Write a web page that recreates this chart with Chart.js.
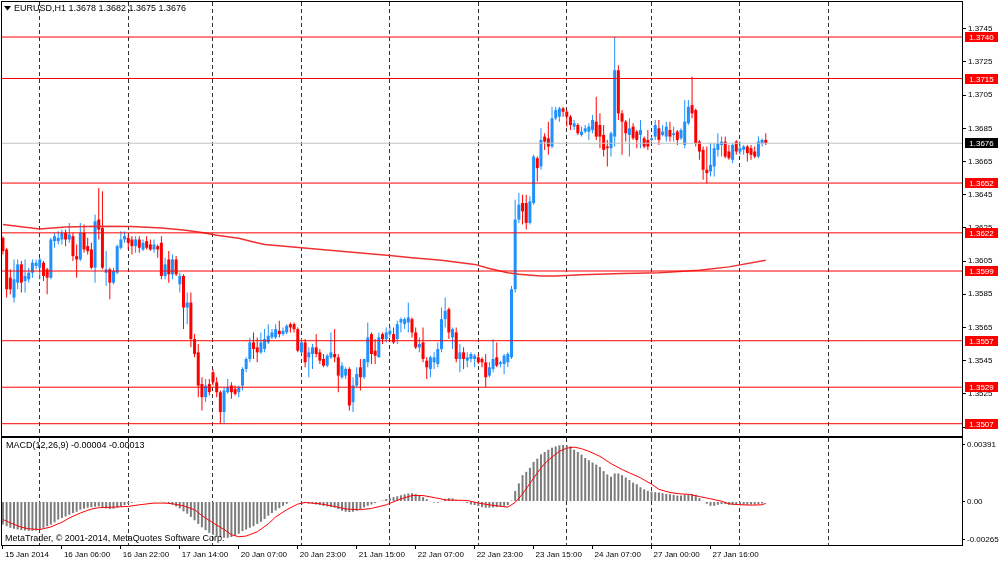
<!DOCTYPE html>
<html>
<head>
<meta charset="utf-8">
<script src="https://cdn.jsdelivr.net/npm/chart.js@4.4.1/dist/chart.umd.min.js"></script>
<style>
html, body { margin: 0; padding: 0; background: #fff; }
#wrap { position: relative; width: 1000px; height: 562px; overflow: hidden; background: #fff; }
#main { position: absolute; left: 0; top: 0; }
#macd { position: absolute; left: 0; top: 437px; }
</style>
</head>
<body>
<div id="wrap">
  <canvas id="main" width="1000" height="437"></canvas>
  <canvas id="macd" width="1000" height="125"></canvas>
</div>
<script>
// EURUSD H1, one value per hourly bar (bar 0 = 15 Jan 14:00)
const symbol = 'EURUSD';
const period = 'H1';

const openP = [
1.3619,1.3612,1.3595,1.3583,1.3592,1.3603,1.3593,1.3594,1.3598,1.3602,
1.3601,1.3604,1.3600,1.3595,1.3617,1.3617,1.3618,1.3622,1.3618,1.3620,
1.3608,1.3606,1.3622,1.3614,1.3612,1.3601,1.3630,1.3625,1.3598,1.3600,
1.3592,1.3598,1.3613,1.3618,1.3619,1.3618,1.3614,1.3618,1.3612,1.3617,
1.3615,1.3612,1.3614,1.3616,1.3596,1.3606,1.3597,1.3606,1.3591,1.3596,
1.3577,1.3580,1.3558,1.3550,1.3531,1.3523,1.3531,1.3538,1.3532,1.3526,
1.3514,1.3526,1.3530,1.3528,1.3526,1.3530,1.3540,1.3546,1.3556,1.3553,
1.3550,1.3552,1.3556,1.3559,1.3559,1.3563,1.3561,1.3562,1.3567,1.3567,
1.3564,1.3550,1.3556,1.3547,1.3549,1.3553,1.3550,1.3546,1.3542,1.3547,
1.3549,1.3547,1.3535,1.3536,1.3540,1.3520,1.3530,1.3541,1.3535,1.3544,
1.3561,1.3551,1.3547,1.3561,1.3558,1.3561,1.3561,1.3558,1.3568,1.3567,
1.3568,1.3570,1.3562,1.3553,1.3556,1.3545,1.3540,1.3544,1.3543,1.3552,
1.3570,1.3576,1.3559,1.3562,1.3546,1.3550,1.3545,1.3546,1.3546,1.3547,
1.3546,1.3544,1.3536,1.3540,1.3547,1.3543,1.3543,1.3544,1.3547,1.3588,
1.3630,1.3640,1.3640,1.3628,1.3640,1.3667,1.3662,1.3680,1.3679,1.3674,
1.3691,1.3692,1.3697,1.3695,1.3692,1.3686,1.3687,1.3681,1.3683,1.3683,
1.3684,1.3689,1.3687,1.3681,1.3674,1.3673,1.3680,1.3720,1.3694,1.3689,
1.3681,1.3686,1.3683,1.3681,1.3679,1.3678,1.3678,1.3680,1.3685,1.3681,
1.3680,1.3684,1.3681,1.3683,1.3679,1.3675,1.3688,1.3699,1.3696,1.3677,
1.3672,1.3660,1.3659,1.3662,1.3672,1.3675,1.3677,1.3671,1.3666,1.3677,
1.3671,1.3672,1.3674,1.3673,1.3671,1.3668,1.3676,1.3678];

const highP = [
1.3620,1.3613,1.3600,1.3606,1.3606,1.3605,1.3606,1.3601,1.3606,1.3606,
1.3607,1.3605,1.3601,1.3619,1.3622,1.3623,1.3624,1.3624,1.3628,1.3622,
1.3615,1.3628,1.3627,1.3619,1.3616,1.3633,1.3649,1.3647,1.3611,1.3601,
1.3601,1.3615,1.3623,1.3623,1.3621,1.3620,1.3620,1.3620,1.3618,1.3620,
1.3618,1.3618,1.3615,1.3620,1.3607,1.3611,1.3609,1.3608,1.3598,1.3597,
1.3586,1.3586,1.3561,1.3555,1.3535,1.3534,1.3534,1.3540,1.3535,1.3527,
1.3529,1.3534,1.3532,1.3530,1.3530,1.3541,1.3547,1.3559,1.3562,1.3559,
1.3562,1.3564,1.3567,1.3564,1.3567,1.3569,1.3565,1.3567,1.3568,1.3568,
1.3565,1.3558,1.3558,1.3553,1.3555,1.3561,1.3552,1.3549,1.3549,1.3562,
1.3564,1.3549,1.3544,1.3541,1.3541,1.3535,1.3541,1.3546,1.3546,1.3568,
1.3562,1.3558,1.3562,1.3562,1.3565,1.3566,1.3565,1.3569,1.3571,1.3571,
1.3580,1.3571,1.3565,1.3559,1.3565,1.3547,1.3548,1.3550,1.3556,1.3577,
1.3583,1.3577,1.3565,1.3565,1.3555,1.3553,1.3550,1.3550,1.3549,1.3549,
1.3547,1.3549,1.3544,1.3558,1.3556,1.3545,1.3549,1.3550,1.3590,1.3642,
1.3646,1.3645,1.3645,1.3644,1.3669,1.3668,1.3685,1.3682,1.3689,1.3698,
1.3698,1.3698,1.3698,1.3696,1.3693,1.3690,1.3688,1.3686,1.3687,1.3688,
1.3693,1.3704,1.3694,1.3687,1.3678,1.3683,1.3740,1.3723,1.3696,1.3690,
1.3691,1.3688,1.3684,1.3690,1.3680,1.3684,1.3680,1.3690,1.3690,1.3687,
1.3689,1.3689,1.3686,1.3684,1.3685,1.3702,1.3702,1.3716,1.3697,1.3678,
1.3674,1.3674,1.3676,1.3676,1.3682,1.3680,1.3680,1.3675,1.3676,1.3678,
1.3677,1.3675,1.3675,1.3675,1.3674,1.3680,1.3679,1.3682];

const lowP = [
1.3609,1.3583,1.3585,1.3580,1.3588,1.3586,1.3586,1.3592,1.3595,1.3600,
1.3594,1.3593,1.3585,1.3594,1.3613,1.3615,1.3615,1.3614,1.3616,1.3605,
1.3595,1.3605,1.3610,1.3609,1.3600,1.3592,1.3618,1.3600,1.3590,1.3582,
1.3591,1.3597,1.3612,1.3616,1.3612,1.3609,1.3610,1.3610,1.3611,1.3612,
1.3611,1.3610,1.3607,1.3594,1.3594,1.3592,1.3594,1.3596,1.3586,1.3564,
1.3567,1.3553,1.3547,1.3523,1.3515,1.3520,1.3524,1.3530,1.3523,1.3507,
1.3507,1.3525,1.3522,1.3524,1.3523,1.3527,1.3538,1.3544,1.3546,1.3544,
1.3549,1.3550,1.3555,1.3558,1.3558,1.3559,1.3560,1.3561,1.3562,1.3562,
1.3550,1.3549,1.3541,1.3535,1.3540,1.3547,1.3543,1.3541,1.3541,1.3546,
1.3544,1.3526,1.3534,1.3534,1.3515,1.3514,1.3529,1.3527,1.3534,1.3541,
1.3543,1.3543,1.3547,1.3555,1.3556,1.3559,1.3555,1.3555,1.3562,1.3564,
1.3562,1.3559,1.3552,1.3550,1.3544,1.3534,1.3535,1.3540,1.3541,1.3550,
1.3565,1.3558,1.3552,1.3544,1.3538,1.3540,1.3541,1.3544,1.3541,1.3543,
1.3541,1.3529,1.3535,1.3538,1.3541,1.3541,1.3537,1.3541,1.3546,1.3586,
1.3628,1.3627,1.3624,1.3627,1.3639,1.3653,1.3660,1.3672,1.3669,1.3673,
1.3690,1.3689,1.3692,1.3686,1.3684,1.3684,1.3681,1.3680,1.3682,1.3678,
1.3682,1.3678,1.3673,1.3668,1.3662,1.3668,1.3674,1.3690,1.3669,1.3677,
1.3668,1.3678,1.3673,1.3673,1.3673,1.3672,1.3677,1.3678,1.3675,1.3680,
1.3677,1.3677,1.3677,1.3675,1.3678,1.3673,1.3687,1.3691,1.3674,1.3666,
1.3654,1.3652,1.3656,1.3656,1.3668,1.3668,1.3667,1.3666,1.3664,1.3669,
1.3669,1.3669,1.3665,1.3666,1.3667,1.3667,1.3674,1.3675];

const closeP = [
1.3611,1.3588,1.3588,1.3594,1.3603,1.3592,1.3596,1.3598,1.3604,1.3604,
1.3606,1.3596,1.3595,1.3618,1.3620,1.3619,1.3622,1.3618,1.3621,1.3608,
1.3606,1.3622,1.3612,1.3611,1.3601,1.3629,1.3624,1.3601,1.3600,1.3592,
1.3599,1.3614,1.3618,1.3620,1.3616,1.3614,1.3618,1.3613,1.3616,1.3613,
1.3612,1.3615,1.3612,1.3596,1.3603,1.3597,1.3606,1.3597,1.3596,1.3577,
1.3580,1.3558,1.3549,1.3530,1.3523,1.3530,1.3526,1.3532,1.3526,1.3514,
1.3527,1.3529,1.3526,1.3525,1.3529,1.3540,1.3546,1.3556,1.3552,1.3550,
1.3556,1.3558,1.3560,1.3562,1.3564,1.3561,1.3563,1.3566,1.3565,1.3564,
1.3551,1.3556,1.3544,1.3550,1.3553,1.3549,1.3545,1.3542,1.3548,1.3550,
1.3547,1.3536,1.3542,1.3540,1.3518,1.3530,1.3537,1.3535,1.3546,1.3559,
1.3549,1.3548,1.3559,1.3558,1.3562,1.3563,1.3556,1.3567,1.3570,1.3570,
1.3571,1.3562,1.3553,1.3555,1.3546,1.3541,1.3547,1.3547,1.3552,1.3570,
1.3575,1.3562,1.3564,1.3546,1.3550,1.3546,1.3547,1.3549,1.3548,1.3544,
1.3544,1.3535,1.3541,1.3546,1.3542,1.3544,1.3548,1.3549,1.3588,1.3630,
1.3639,1.3635,1.3628,1.3641,1.3668,1.3661,1.3678,1.3677,1.3674,1.3691,
1.3696,1.3697,1.3695,1.3692,1.3687,1.3688,1.3682,1.3683,1.3685,1.3686,
1.3690,1.3680,1.3680,1.3672,1.3673,1.3682,1.3720,1.3694,1.3689,1.3682,
1.3685,1.3679,1.3678,1.3684,1.3674,1.3674,1.3679,1.3687,1.3678,1.3683,
1.3686,1.3680,1.3682,1.3678,1.3684,1.3689,1.3698,1.3694,1.3676,1.3671,
1.3660,1.3658,1.3663,1.3673,1.3676,1.3677,1.3668,1.3667,1.3675,1.3671,
1.3673,1.3674,1.3670,1.3669,1.3668,1.3677,1.3678,1.3676];

// moving average line read at a few bars
const maBars = [0,10,17,26,35,43,49,54,58,64,68,71,81,94,105,111,119,128,132,137,140,146,150,157,168,178,189,197,207];
const maVals = [1.36270,1.36243,1.36255,1.36260,1.36258,1.36250,1.36237,1.36222,1.36205,1.36187,1.36165,1.36150,1.36130,1.36105,1.36083,1.36070,1.36055,1.36030,1.36005,1.35980,1.35970,1.35960,1.35960,1.35968,1.35975,1.35980,1.35995,1.36015,1.36055];

// horizontal lines and the bid line
const levels = [1.3740, 1.3715, 1.3652, 1.3622, 1.3599, 1.3557, 1.3529, 1.3507];
const bidPrice = 1.3676;
const priceTicks = [1.3745,1.3725,1.3705,1.3685,1.3665,1.3645,1.3625,1.3605,1.3585,1.3565,1.3545,1.3525,1.3505];

// MACD(12,26,9) main value per bar
const macdHist = [
-0.00160,-0.00171,-0.00182,-0.00189,-0.00194,-0.00198,-0.00201,-0.00203,-0.00203,-0.00201,-0.00194,
-0.00182,-0.00171,-0.00160,-0.00144,-0.00125,-0.00114,-0.00103,-0.00091,-0.00080,-0.00071,
-0.00057,-0.00050,-0.00043,-0.00039,-0.00036,-0.00034,-0.00039,-0.00048,-0.00052,-0.00050,-0.00043,-0.00034,-0.00025,
-0.00016,-0.00009,-0.00005,-0.00002,-0.00002,0.00000,0.00002,0.00002,0.00000,-0.00002,-0.00007,-0.00011,
-0.00023,-0.00034,-0.00048,-0.00068,-0.00084,-0.00107,-0.00130,-0.00155,-0.00178,-0.00198,-0.00217,-0.00230,
-0.00239,-0.00246,-0.00251,-0.00251,-0.00246,-0.00235,-0.00223,
-0.00205,-0.00194,-0.00182,-0.00171,-0.00155,-0.00141,-0.00121,-0.00098,-0.00080,-0.00062,-0.00046,-0.00030,-0.00016,-0.00005,0.00005,0.00005,
-0.00002,-0.00009,-0.00014,-0.00016,-0.00021,-0.00025,-0.00030,-0.00034,-0.00039,-0.00043,-0.00052,-0.00064,-0.00071,-0.00073,-0.00071,
-0.00064,-0.00052,-0.00041,-0.00030,-0.00021,-0.00011,-0.00002,0.00007,0.00016,0.00023,
0.00030,0.00036,0.00043,0.00050,0.00055,0.00057,0.00052,0.00043,0.00030,0.00016,0.00002,
-0.00007,-0.00009,0.00002,0.00018,0.00023,0.00021,0.00011,0.00002,-0.00005,-0.00011,-0.00021,-0.00025,
-0.00032,-0.00039,-0.00043,-0.00043,-0.00041,-0.00039,-0.00034,-0.00030,-0.00025,
0.00007,
0.00073,0.00125,0.00182,0.00205,0.00233,0.00274,0.00296,0.00326,0.00342,0.00358,0.00372,0.00381,0.00388,0.00391,0.00389,
0.00381,0.00358,0.00342,0.00324,0.00301,0.00285,0.00269,0.00255,0.00239,0.00210,0.00187,0.00171,
0.00194,0.00194,0.00182,0.00166,0.00148,0.00130,0.00119,0.00098,0.00084,0.00073,0.00068,0.00064,
0.00062,0.00057,0.00052,0.00050,0.00046,0.00041,0.00041,0.00046,0.00050,0.00052,0.00046,
0.00023,0.00005,-0.00016,-0.00030,-0.00030,-0.00023,-0.00018,-0.00018,-0.00023,-0.00023,-0.00023,-0.00023,-0.00023,-0.00023,-0.00021,-0.00021,-0.00018,-0.00014,-0.00004];

// signal line read at a few bars
const sigBars = [0,2,5,7,10,13,16,18,21,24,26,30,34,37,41,44,46,49,52,54,57,60,62,64,66,69,72,74,77,80,82,86,90,93,97,100,104,108,111,114,117,120,123,126,129,133,137,139,141,143,145,147,149,151,153,155,157,159,162,165,168,170,173,176,178,181,184,186,189,192,195,197,200,203,206,207];
const sigVals = [-0.00125,-0.00148,-0.00178,-0.00189,-0.00194,-0.00176,-0.00144,-0.00114,-0.00080,-0.00052,-0.00043,-0.00039,-0.00034,-0.00023,-0.00011,-0.00011,-0.00016,-0.00030,-0.00057,-0.00098,-0.00148,-0.00194,-0.00230,-0.00244,-0.00239,-0.00210,-0.00155,-0.00107,-0.00057,-0.00018,-0.00007,-0.00016,-0.00034,-0.00052,-0.00057,-0.00048,-0.00023,0.00018,0.00041,0.00041,0.00027,0.00011,0.00009,0.00007,-0.00011,-0.00027,-0.00039,-0.00007,0.00052,0.00125,0.00198,0.00262,0.00308,0.00347,0.00369,0.00376,0.00365,0.00347,0.00312,0.00262,0.00221,0.00198,0.00164,0.00119,0.00084,0.00062,0.00052,0.00050,0.00034,0.00018,0.00002,-0.00016,-0.00023,-0.00025,-0.00023,-0.00013];
const macdTicks = [0.00391, 0, -0.00265];
const macdTickLabels = ['0.00391', '0.00', '-0.00265'];

// time axis
const timeLabelBars = [0,16,32,48,64,80,96,112,128,144,160,176,192];
const timeLabels = ['15 Jan 2014','16 Jan 06:00','16 Jan 22:00','17 Jan 14:00','20 Jan 07:00','20 Jan 23:00','21 Jan 15:00','22 Jan 07:00','22 Jan 23:00','23 Jan 15:00','24 Jan 07:00','27 Jan 00:00','27 Jan 16:00'];
const daySepBars = [10,34,57,81,105,129,153,176,200,224];

// ---- layout ----
const xMin = -0.255, xMax = 260.25;
const axisW = 38;
const FONT = '"Liberation Sans", Arial, sans-serif';
Chart.defaults.font.family = FONT;
Chart.defaults.color = '#000';

const upColor = '#1e90ff', downColor = '#ff0000';
const candleColors = openP.map((o, i) => closeP[i] >= o ? upColor : downColor);

function lineAt(v, color) {
  return {
    type: 'line', data: [{x: xMin, y: v}, {x: xMax, y: v}],
    borderColor: color, borderWidth: 1, pointRadius: 0, order: 0
  };
}

// keep the plot area flush with the canvas edges
function noPad(s) {
  s.paddingTop = 0; s.paddingBottom = 0; s.paddingLeft = 0; s.paddingRight = 0;
}

const mainDecor = {
  id: 'mainDecor',
  afterDraw(chart) {
    const {ctx, chartArea: a, scales} = chart;
    const y = scales.y;
    ctx.save();
    ctx.strokeStyle = '#000';
    ctx.lineWidth = 1;
    ctx.strokeRect(a.left - 0.5, a.top - 0.5, a.right - a.left + 1, a.bottom - a.top + 1);

    function box(v, color) {
      const py = Math.round(y.getPixelForValue(v));
      ctx.fillStyle = color;
      ctx.fillRect(a.right + 3, py - 5, 33, 10);
      ctx.fillStyle = '#fff';
      ctx.font = '8px ' + FONT;
      ctx.textAlign = 'center';
      ctx.textBaseline = 'middle';
      ctx.fillText(v.toFixed(4), a.right + 19.5, py + 0.5);
    }
    levels.forEach(v => box(v, '#ff0000'));
    box(bidPrice, '#000');

    // title
    const n = openP.length - 1;
    ctx.fillStyle = '#000';
    ctx.beginPath();
    ctx.moveTo(4, 6); ctx.lineTo(11, 6); ctx.lineTo(7.5, 10.5); ctx.closePath();
    ctx.fill();
    ctx.font = '9px ' + FONT;
    ctx.textAlign = 'left';
    ctx.textBaseline = 'middle';
    ctx.fillText(symbol + ',' + period + ' ' + [openP[n], highP[n], lowP[n], closeP[n]].map(v => v.toFixed(4)).join(' '), 14, 9);
    ctx.restore();
  }
};

new Chart(document.getElementById('main'), {
  type: 'bar',
  data: {
    datasets: [
      ...levels.map(v => lineAt(v, '#ff0000')),
      lineAt(bidPrice, '#c0c0c0'),
      {
        type: 'line', data: maBars.map((b, i) => ({x: b, y: maVals[i]})),
        borderColor: '#f03030', borderWidth: 1.5, pointRadius: 0, order: 1
      },
      {
        type: 'bar', data: openP.map((o, i) => ({x: i, y: [o, closeP[i]]})),
        backgroundColor: candleColors, barThickness: 3, minBarLength: 1,
        grouped: false, inflateAmount: 0, order: 2
      },
      {
        type: 'bar', data: openP.map((o, i) => ({x: i, y: [lowP[i], highP[i]]})),
        backgroundColor: candleColors, barThickness: 1, grouped: false,
        inflateAmount: 0, order: 3
      }
    ]
  },
  options: {
    responsive: false,
    animation: false,
    devicePixelRatio: 1,
    layout: { padding: { left: 2, top: 2, right: 0, bottom: 1 } },
    plugins: { legend: { display: false }, tooltip: { enabled: false } },
    scales: {
      x: {
        type: 'linear', min: xMin, max: xMax, offset: false,
        afterBuildTicks: s => { s.ticks = daySepBars.map(v => ({value: v})); },
        ticks: { display: false },
        grid: { color: '#333', lineWidth: 1, drawTicks: false, offset: false },
        border: { display: false, dash: [4, 3] },
        afterFit: s => { s.height = 0; noPad(s); }
      },
      y: {
        type: 'linear', position: 'right', min: 1.34996, max: 1.37611,
        afterBuildTicks: s => { s.ticks = priceTicks.map(v => ({value: v})); },
        ticks: { font: { size: 8 }, color: '#000', padding: 2, callback: v => v.toFixed(4) },
        grid: { drawOnChartArea: false, drawTicks: true, tickLength: 4, color: '#000' },
        border: { display: false },
        afterFit: s => { s.width = axisW; noPad(s); }
      }
    }
  },
  plugins: [mainDecor]
});

const macdDecor = {
  id: 'macdDecor',
  afterDraw(chart) {
    const {ctx, chartArea: a} = chart;
    ctx.save();
    ctx.strokeStyle = '#000';
    ctx.lineWidth = 1;
    ctx.strokeRect(a.left - 0.5, a.top - 0.5, a.right - a.left + 1, a.bottom - a.top + 1);
    ctx.fillStyle = '#000';
    ctx.font = '9px ' + FONT;
    ctx.textAlign = 'left';
    ctx.textBaseline = 'middle';
    const n = macdHist.length - 1;
    ctx.fillText('MACD(12,26,9) ' + macdHist[n].toFixed(5) + ' ' + sigVals[sigVals.length - 1].toFixed(5), 6, 9);
    ctx.fillText('MetaTrader, \u00a9 2001-2014, MetaQuotes Software Corp.', 5, 102);
    ctx.restore();
  }
};

new Chart(document.getElementById('macd'), {
  type: 'bar',
  data: {
    datasets: [
      {
        type: 'line', data: sigBars.map((b, i) => ({x: b, y: sigVals[i]})),
        borderColor: '#ff0000', borderWidth: 1, pointRadius: 0, order: 0
      },
      {
        type: 'bar', data: macdHist.map((v, i) => ({x: i, y: v})),
        backgroundColor: '#7c7c7c', barThickness: 2, grouped: false,
        inflateAmount: 0, order: 1
      }
    ]
  },
  options: {
    responsive: false,
    animation: false,
    devicePixelRatio: 1,
    layout: { padding: { left: 2, top: 1, right: 0, bottom: 0 } },
    plugins: { legend: { display: false }, tooltip: { enabled: false } },
    scales: {
      x: {
        type: 'linear', position: 'bottom', min: xMin, max: xMax, offset: false,
        afterBuildTicks: s => { s.ticks = timeLabelBars.map(v => ({value: v})); },
        ticks: {
          autoSkip: false, maxRotation: 0, minRotation: 0, align: 'start', labelOffset: 2,
          padding: 1, font: { size: 8 }, color: '#000',
          callback: (v, i) => timeLabels[i]
        },
        grid: { drawOnChartArea: false, drawTicks: true, tickLength: 4, color: '#000', offset: false },
        border: { display: false },
        afterFit: s => { s.height = 17; noPad(s); }
      },
      xsep: {
        type: 'linear', position: 'top', min: xMin, max: xMax, offset: false,
        afterBuildTicks: s => { s.ticks = daySepBars.map(v => ({value: v})); },
        ticks: { display: false },
        grid: { color: '#333', lineWidth: 1, drawTicks: false, offset: false },
        border: { display: false, dash: [4, 3] },
        afterFit: s => { s.height = 0; noPad(s); }
      },
      y: {
        type: 'linear', position: 'right', min: -0.00301, max: 0.00439,
        afterBuildTicks: s => { s.ticks = macdTicks.map(v => ({value: v})); },
        ticks: { font: { size: 8 }, color: '#000', padding: 2, callback: (v, i) => macdTickLabels[i] },
        grid: { drawOnChartArea: false, drawTicks: true, tickLength: 3, color: '#000' },
        border: { display: false },
        afterFit: s => { s.width = axisW; noPad(s); }
      }
    }
  },
  plugins: [macdDecor]
});
</script>
</body>
</html>
